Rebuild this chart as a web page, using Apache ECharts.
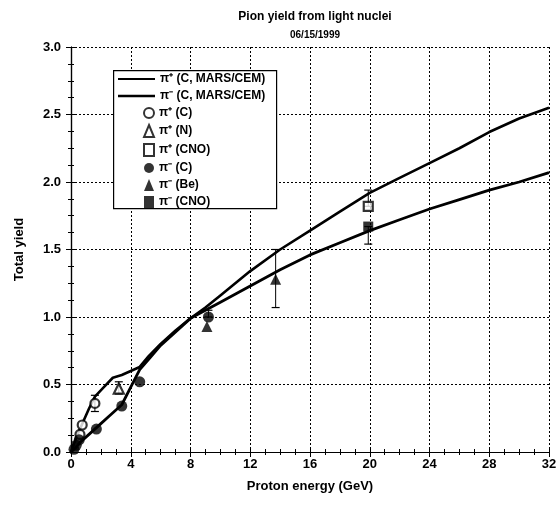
<!DOCTYPE html>
<html>
<head>
<meta charset="utf-8">
<script src="https://cdn.jsdelivr.net/npm/echarts@6/dist/echarts.min.js"></script>
<style>
  html, body { margin: 0; padding: 0; background: #fff; }
  #main { width: 560px; height: 505px; }
</style>
</head>
<body>
<div id="main"></div>
<script>
// MARS/CEM model curves [energy GeV, yield]
var piPlusModel = [[0,0],[0.2,0.06],[0.4,0.12],[0.6,0.17],[0.8,0.22],[1.2,0.32],[1.6,0.41],[2.2,0.48],[2.8,0.55],[3.4,0.57],[4.0,0.60],[4.6,0.63],[5.2,0.71],[6.0,0.80],[7.0,0.90],[8.0,0.99],[9.0,1.07],[10,1.16],[12,1.34],[14,1.50],[16,1.64],[18,1.78],[20,1.92],[22,2.03],[24,2.14],[26,2.25],[28,2.37],[30,2.47],[32,2.55]];
var piMinusModel = [[0,0],[0.3,0.03],[0.6,0.07],[1.0,0.11],[1.5,0.16],[2.0,0.21],[2.6,0.27],[3.4,0.35],[4.0,0.48],[4.6,0.61],[5.3,0.70],[6.0,0.79],[7.0,0.89],[8.0,0.99],[9.0,1.05],[10,1.11],[12,1.23],[14,1.35],[16,1.46],[18,1.55],[20,1.64],[22,1.72],[24,1.80],[26,1.87],[28,1.94],[30,2.00],[32,2.07]];

// measured points
var piPlusC = [[0.6,0.13],[0.75,0.2],[1.6,0.36]];
var piPlusN = [[3.2,0.47]];
var piPlusCNO = [[19.9,1.82]];
var piMinusC = [[0.2,0.02],[0.35,0.05],[0.55,0.09],[1.7,0.17],[3.4,0.34],[4.6,0.52],[9.2,1.0]];
var piMinusBe = [[9.1,0.93],[13.7,1.28]];
var piMinusCNO = [[19.9,1.67]];

// error bars [energy, low, high]
var errBars = [[1.6,0.30,0.42],[3.2,0.43,0.52],[9.2,1.0,1.05],[13.7,1.07,1.50],[19.9,1.82,1.94],[19.9,1.54,1.67]];

var xTicks = [0, 32, 4];
var yTicks = [0, 3, 0.5];

var font = 'Liberation Sans';
var chart = echarts.init(document.getElementById('main'));

function errItem(params, api) {
  var top = api.coord([api.value(0), api.value(2)]);
  var bot = api.coord([api.value(0), api.value(1)]);
  var w = 4;
  return {
    type: 'group',
    children: [
      { type: 'line', shape: { x1: top[0], y1: top[1], x2: bot[0], y2: bot[1] }, style: { stroke: '#000', lineWidth: 1 } },
      { type: 'line', shape: { x1: top[0] - w, y1: top[1], x2: top[0] + w, y2: top[1] }, style: { stroke: '#000', lineWidth: 1.2 } },
      { type: 'line', shape: { x1: bot[0] - w, y1: bot[1], x2: bot[0] + w, y2: bot[1] }, style: { stroke: '#000', lineWidth: 1.2 } }
    ]
  };
}

var axisCommon = {
  axisLine: { lineStyle: { color: '#000', width: 1.2 } },
  axisTick: { inside: true, length: 5, lineStyle: { color: '#000' } },
  minorTick: { show: true, splitNumber: 4, length: 3, lineStyle: { color: '#000' } },
  splitLine: { show: false }
};

var legendText = { fontSize: 12, fontWeight: 'bold', color: '#000', fontFamily: font };

var option = {
  backgroundColor: '#fff',
  animation: false,
  textStyle: { fontFamily: font },
  title: [
    { text: 'Pion yield from light nuclei', left: 310, top: 6, textAlign: 'center',
      textStyle: { fontSize: 12, fontWeight: 'bold', color: '#000', fontFamily: font } },
    { text: '06/15/1999', left: 310, top: 25, textAlign: 'center',
      textStyle: { fontSize: 10, fontWeight: 'bold', color: '#000', fontFamily: font } }
  ],
  grid: { left: 71, right: 11, top: 47, bottom: 53 },
  legend: [
    { orient: 'vertical', left: 118, top: 73, padding: 0, itemWidth: 37, itemHeight: 12, itemGap: 5,
      data: [{ name: 'π⁺ (C, MARS/CEM)', icon: 'path://M0,5 L37,5 L37,7 L0,7 Z' },
             { name: 'π⁻ (C, MARS/CEM)', icon: 'path://M0,5 L37,5 L37,7.5 L0,7.5 Z' }],
      textStyle: legendText },
    { orient: 'vertical', left: 143, top: 107, padding: 0, itemWidth: 10, itemHeight: 12, itemGap: 5,
      data: ['π⁺ (C)', 'π⁺ (N)', 'π⁺ (CNO)', 'π⁻ (C)', 'π⁻ (Be)', 'π⁻ (CNO)'],
      textStyle: legendText }
  ],
  graphic: [
    { type: 'rect', left: 113, top: 70, shape: { width: 163, height: 138 },
      style: { fill: '#fff', stroke: '#000', lineWidth: 1.2 }, z: 2 }
  ],
  xAxis: [
    Object.assign({}, axisCommon, {
      type: 'value', min: xTicks[0], max: xTicks[1], interval: xTicks[2],
      name: 'Proton energy (GeV)', nameLocation: 'middle', nameGap: 28,
      nameTextStyle: { fontSize: 13, fontWeight: 'bold', color: '#000', fontFamily: font },
      axisLabel: { fontSize: 13, fontWeight: 'bold', color: '#000', fontFamily: font, margin: 6 },
      splitLine: { show: true, lineStyle: { color: '#000', type: [2, 2], width: 1 } }
    }),
    Object.assign({}, axisCommon, {
      type: 'value', position: 'top', min: xTicks[0], max: xTicks[1], interval: xTicks[2],
      axisLabel: { show: false }
    })
  ],
  yAxis: [
    Object.assign({}, axisCommon, {
      type: 'value', min: yTicks[0], max: yTicks[1], interval: yTicks[2],
      name: 'Total yield', nameLocation: 'middle', nameGap: 45,
      nameTextStyle: { fontSize: 13, fontWeight: 'bold', color: '#000', fontFamily: font },
      axisLabel: { fontSize: 13, fontWeight: 'bold', color: '#000', fontFamily: font, margin: 10,
        formatter: function (v) { return v.toFixed(1); } },
      splitLine: { show: true, lineStyle: { color: '#000', type: [2, 2], width: 1 } }
    }),
    Object.assign({}, axisCommon, {
      type: 'value', position: 'right', min: yTicks[0], max: yTicks[1], interval: yTicks[2],
      axisLabel: { show: false }
    })
  ],
  series: [
    { name: 'π⁺ (C, MARS/CEM)', type: 'line', data: piPlusModel, showSymbol: false, symbol: 'none',
      lineStyle: { color: '#000', width: 2.6 }, itemStyle: { color: '#000' }, z: 3 },
    { name: 'π⁻ (C, MARS/CEM)', type: 'line', data: piMinusModel, showSymbol: false, symbol: 'none',
      lineStyle: { color: '#000', width: 2.8 }, itemStyle: { color: '#000' }, z: 3 },
    { type: 'custom', renderItem: errItem, data: errBars, z: 4 },
    { name: 'π⁺ (C)', type: 'scatter', data: piPlusC, symbol: 'circle', symbolSize: 9,
      itemStyle: { color: '#fff', borderColor: '#000', borderWidth: 2.2 }, z: 5 },
    { name: 'π⁺ (N)', type: 'scatter', data: piPlusN, symbol: 'triangle', symbolSize: 10,
      itemStyle: { color: '#fff', borderColor: '#000', borderWidth: 2.2 }, z: 5 },
    { name: 'π⁺ (CNO)', type: 'scatter', data: piPlusCNO, symbol: 'rect', symbolSize: 9,
      itemStyle: { color: '#fff', borderColor: '#000', borderWidth: 2.2 }, z: 5 },
    { name: 'π⁻ (C)', type: 'scatter', data: piMinusC, symbol: 'circle', symbolSize: 11,
      itemStyle: { color: '#000' }, z: 5 },
    { name: 'π⁻ (Be)', type: 'scatter', data: piMinusBe, symbol: 'triangle', symbolSize: 11,
      itemStyle: { color: '#000' }, z: 5 },
    { name: 'π⁻ (CNO)', type: 'scatter', data: piMinusCNO, symbol: 'rect', symbolSize: 10,
      itemStyle: { color: '#000' }, z: 5 }
  ]
};

chart.setOption(option);
</script>
</body>
</html>
